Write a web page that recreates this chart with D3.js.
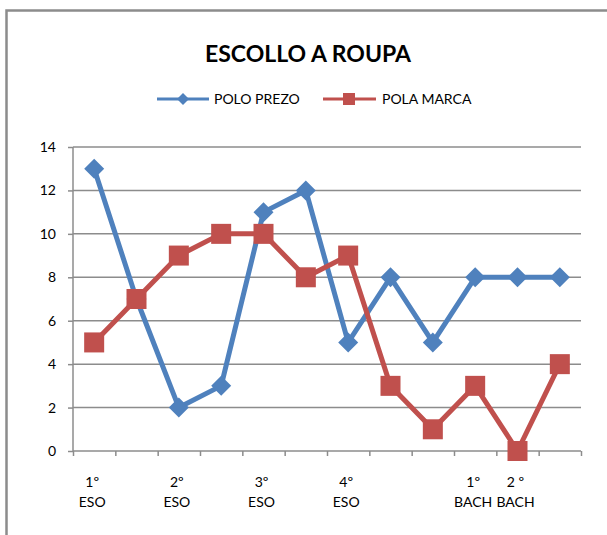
<!DOCTYPE html>
<html>
<head>
<meta charset="utf-8">
<script src="https://cdn.jsdelivr.net/npm/d3@7"></script>
<style>
  body { margin: 0; background: #fff; }
  svg { display: block; font-family: Lato, "Open Sans", sans-serif; }
</style>
</head>
<body>
<div id="chart"></div>
<script>
// chart data
var categories = ["1º ESO", "", "2º ESO", "", "3º ESO", "", "4º ESO", "", "", "1º BACH", "2 º BACH", ""];
var poloPrezo = [13, 7, 2, 3, 11, 12, 5, 8, 5, 8, 8, 8];
var polaMarca = [5, 7, 9, 10, 10, 8, 9, 3, 1, 3, 0, 4];
var yTicks = [0, 2, 4, 6, 8, 10, 12, 14];
var seriesNames = ["POLO PREZO", "POLA MARCA"];

var svgWidth = 607;
var svgHeight = 535;

var margin = { top: 147, right: 26, bottom: 84, left: 73 };
var width = svgWidth - margin.left - margin.right;
var height = svgHeight - margin.top - margin.bottom;

var blue = "#4f81bd";
var red = "#c0504d";

var svg = d3.select("#chart")
    .append("svg")
    .attr("width", svgWidth)
    .attr("height", svgHeight);

// outer frame (runs off the right and bottom edges)
svg.append("rect")
    .attr("x", 6.5)
    .attr("y", 10.5)
    .attr("width", svgWidth + 20)
    .attr("height", svgHeight + 20)
    .attr("fill", "none")
    .attr("stroke", "#8c8c8c")
    .attr("stroke-width", 2.5);

// title
svg.append("text")
    .attr("x", 308)
    .attr("y", 62)
    .attr("text-anchor", "middle")
    .attr("font-size", "23px")
    .attr("font-weight", "bold")
    .attr("fill", "#000")
    .text("ESCOLLO A ROUPA");

var chartGroup = svg.append("g")
    .attr("transform", `translate(${margin.left}, ${margin.top})`);

var xBand = d3.scaleBand()
    .domain(d3.range(categories.length))
    .range([0, width]);

var yLinearScale = d3.scaleLinear()
    .domain([0, 14])
    .range([height, 0]);

var xCenter = i => xBand(i) + xBand.bandwidth() / 2;

// horizontal grid lines
chartGroup.selectAll(".grid")
    .data(yTicks.filter(d => d > 0))
    .enter()
    .append("line")
    .attr("x1", 0)
    .attr("x2", width)
    .attr("y1", d => yLinearScale(d))
    .attr("y2", d => yLinearScale(d))
    .attr("stroke", "#8c8c8c")
    .attr("stroke-width", 1.5);

// y axis
var leftAxis = d3.axisLeft(yLinearScale)
    .tickValues(yTicks)
    .tickSize(5)
    .tickPadding(12);

var yAxis = chartGroup.append("g").call(leftAxis);
yAxis.select(".domain").attr("stroke", "#8c8c8c").attr("stroke-width", 1.5)
    .attr("d", `M0,${height}V0`);
yAxis.selectAll(".tick line").attr("stroke", "#8c8c8c").attr("stroke-width", 1.5);
yAxis.selectAll(".tick text")
    .attr("font-size", "14px")
    .attr("fill", "#000")
    .style("font-family", "Lato, sans-serif");

// x axis: ticks at category boundaries
var xEdge = d3.scaleLinear().domain([0, categories.length]).range([0, width]);
var bottomAxis = d3.axisBottom(xEdge)
    .tickValues(d3.range(categories.length + 1))
    .tickSize(5)
    .tickFormat("");

var xAxis = chartGroup.append("g")
    .attr("transform", `translate(0, ${height})`)
    .call(bottomAxis);
xAxis.select(".domain").attr("stroke", "#8c8c8c").attr("stroke-width", 1.5)
    .attr("d", `M0,0H${width}`);
xAxis.selectAll(".tick line").attr("stroke", "#8c8c8c").attr("stroke-width", 1.5);

// category labels, two lines each
var catLabels = chartGroup.selectAll(".catLabel")
    .data(categories.map((c, i) => ({ c: c, i: i })).filter(d => d.c))
    .enter()
    .append("text")
    .attr("text-anchor", "middle")
    .attr("font-size", "14px")
    .attr("fill", "#000");

catLabels.each(function (d) {
    var parts = d.c.match(/^(.*º)\s(.*)$/);
    var el = d3.select(this);
    el.append("tspan").attr("x", xCenter(d.i) - 2).attr("y", height + 36).text(parts[1]);
    el.append("tspan").attr("x", xCenter(d.i) - 2).attr("y", height + 56).text(parts[2]);
});

var line = d3.line()
    .x((d, i) => xCenter(i))
    .y(d => yLinearScale(d));

// POLO PREZO
chartGroup.append("path")
    .datum(poloPrezo)
    .attr("fill", "none")
    .attr("stroke", blue)
    .attr("stroke-width", 5)
    .attr("stroke-linejoin", "round")
    .attr("d", line);

chartGroup.selectAll(".diamond")
    .data(poloPrezo)
    .enter()
    .append("path")
    .attr("d", "M0,-10L10,0L0,10L-10,0Z")
    .attr("transform", (d, i) => `translate(${xCenter(i)}, ${yLinearScale(d)})`)
    .attr("fill", blue);

// POLA MARCA
chartGroup.append("path")
    .datum(polaMarca)
    .attr("fill", "none")
    .attr("stroke", red)
    .attr("stroke-width", 5)
    .attr("stroke-linejoin", "round")
    .attr("d", line);

chartGroup.selectAll(".square")
    .data(polaMarca)
    .enter()
    .append("rect")
    .attr("x", (d, i) => xCenter(i) - 10)
    .attr("y", d => yLinearScale(d) - 10)
    .attr("width", 20)
    .attr("height", 20)
    .attr("fill", red);

// legend
var legend = svg.append("g").attr("transform", "translate(0, 99)");

var leg1 = legend.append("g").attr("transform", "translate(157, 0)");
leg1.append("line").attr("x1", 0).attr("x2", 52).attr("stroke", blue).attr("stroke-width", 3);
leg1.append("path").attr("d", "M0,-6L6,0L0,6L-6,0Z").attr("transform", "translate(26,0)").attr("fill", blue);
leg1.append("text").attr("x", 57).attr("y", 5).attr("font-size", "14px").text(seriesNames[0]);

var leg2 = legend.append("g").attr("transform", "translate(323, 0)");
leg2.append("line").attr("x1", 0).attr("x2", 53).attr("stroke", red).attr("stroke-width", 3);
leg2.append("rect").attr("x", 20).attr("y", -6).attr("width", 12).attr("height", 12).attr("fill", red);
leg2.append("text").attr("x", 59).attr("y", 5).attr("font-size", "14px").text(seriesNames[1]);
</script>
</body>
</html>
